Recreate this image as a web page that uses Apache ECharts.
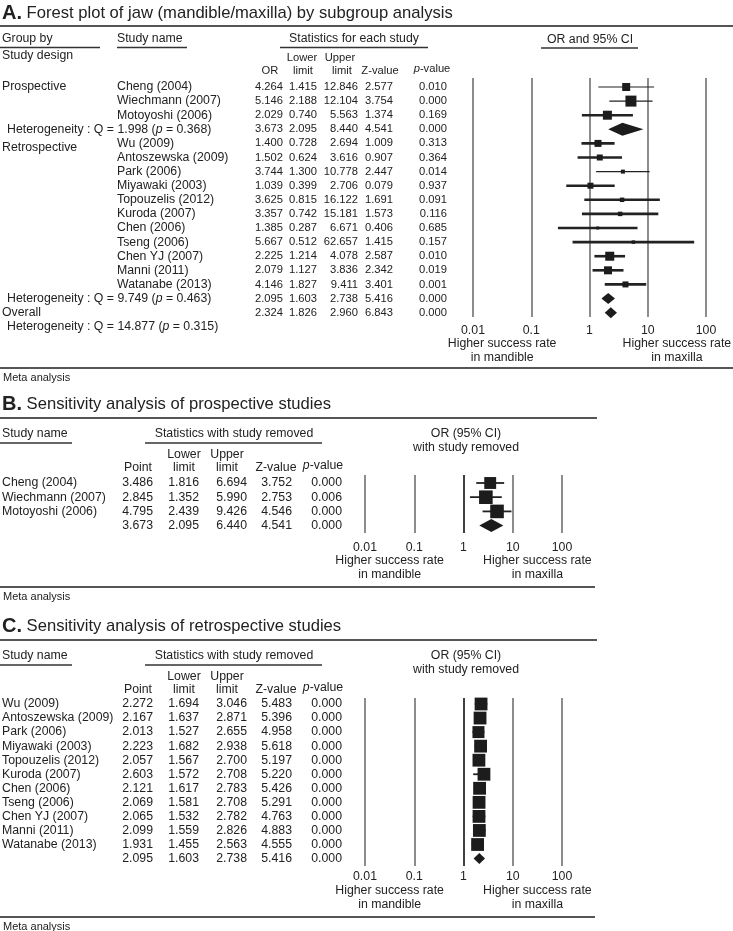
<!DOCTYPE html>
<html><head><meta charset="utf-8">
<script src="https://cdn.jsdelivr.net/npm/echarts@6/dist/echarts.min.js"></script>
<style>html,body{margin:0;padding:0;background:#fff}#c{width:733px;height:931px}</style>
</head><body><div id="c"></div>
<script>
// ---------------- DATA ----------------
const tickLabels = ['0.01', '0.1', '1', '10', '100'];

// Panel A: individual studies
const aStudies = ['Cheng (2004)', 'Wiechmann (2007)', 'Motoyoshi (2006)', 'Wu (2009)', 'Antoszewska (2009)', 'Park (2006)', 'Miyawaki (2003)', 'Topouzelis (2012)', 'Kuroda (2007)', 'Chen (2006)', 'Tseng (2006)', 'Chen YJ (2007)', 'Manni (2011)', 'Watanabe (2013)'];
const aDesign = ['Prospective', 'Prospective', 'Prospective', 'Retrospective', 'Retrospective', 'Retrospective', 'Retrospective', 'Retrospective', 'Retrospective', 'Retrospective', 'Retrospective', 'Retrospective', 'Retrospective', 'Retrospective'];
const aOR = [4.264, 5.146, 2.029, 1.400, 1.502, 3.744, 1.039, 3.625, 3.357, 1.385, 5.667, 2.225, 2.079, 4.146];
const aLower = [1.415, 2.188, 0.740, 0.728, 0.624, 1.300, 0.399, 0.815, 0.742, 0.287, 0.512, 1.214, 1.127, 1.827];
const aUpper = [12.846, 12.104, 5.563, 2.694, 3.616, 10.778, 2.706, 16.122, 15.181, 6.671, 62.657, 4.078, 3.836, 9.411];
const aZ = [2.577, 3.754, 1.374, 1.009, 0.907, 2.447, 0.079, 1.691, 1.573, 0.406, 1.415, 2.587, 2.342, 3.401];
const aP = [0.010, 0.000, 0.169, 0.313, 0.364, 0.014, 0.937, 0.091, 0.116, 0.685, 0.157, 0.010, 0.019, 0.001];
const aWeight = [6.4, 12.1, 8.1, 4.9, 3.6, 1.6, 3.6, 2.0, 2.0, 0.9, 1.2, 8.1, 6.4, 3.6]; // relative weights (read from square areas)

// Panel A: subgroup / overall summaries
const aSumGroups = ['Prospective', 'Retrospective', 'Overall'];
const aSumOR = [3.673, 2.095, 2.324];
const aSumLower = [2.095, 1.603, 1.826];
const aSumUpper = [8.440, 2.738, 2.960];
const aSumZ = [4.541, 5.416, 6.843];
const aSumP = [0.000, 0.000, 0.000];
const aHetQ = [1.998, 9.749, 14.877];
const aHetP = [0.368, 0.463, 0.315];

// Panel B: prospective, one study removed
const bStudies = ['Cheng (2004)', 'Wiechmann (2007)', 'Motoyoshi (2006)'];
const bPoint = [3.486, 2.845, 4.795];
const bLower = [1.816, 1.352, 2.439];
const bUpper = [6.694, 5.990, 9.426];
const bZ = [3.752, 2.753, 4.546];
const bP = [0.000, 0.006, 0.000];
const bWeight = [14, 16, 16];
const bSummary = [3.673, 2.095, 6.440, 4.541, 0.000];

// Panel C: retrospective, one study removed
const cStudies = ['Wu (2009)', 'Antoszewska (2009)', 'Park (2006)', 'Miyawaki (2003)', 'Topouzelis (2012)', 'Kuroda (2007)', 'Chen (2006)', 'Tseng (2006)', 'Chen YJ (2007)', 'Manni (2011)', 'Watanabe (2013)'];
const cPoint = [2.272, 2.167, 2.013, 2.223, 2.057, 2.603, 2.121, 2.069, 2.065, 2.099, 1.931];
const cLower = [1.694, 1.637, 1.527, 1.682, 1.567, 1.572, 1.617, 1.581, 1.532, 1.559, 1.455];
const cUpper = [3.046, 2.871, 2.655, 2.938, 2.700, 2.708, 2.783, 2.708, 2.782, 2.826, 2.563];
const cZ = [5.483, 5.396, 4.958, 5.618, 5.197, 5.220, 5.426, 5.291, 4.763, 4.883, 4.555];
const cP = [0.000, 0.000, 0.000, 0.000, 0.000, 0.000, 0.000, 0.000, 0.000, 0.000, 0.000];
const cWeight = [16, 16, 15, 16, 16, 16, 16, 16, 16, 16, 16];
const cSummary = [2.095, 1.603, 2.738, 5.416, 0.000];

// ---------------- STYLE ----------------
const FONT = '"Liberation Sans", Arial, Helvetica, sans-serif';
const TXT = '#222';
const GRAY = '#707070';
const MARK = '#1c1c1c';
const FS = 12.3;
const FS_A_NUM = 11.2;
const thinCI = ['Cheng (2004)', 'Wiechmann (2007)', 'Park (2006)'];
function fnt(size, style, weight) { return (style || 'normal') + ' ' + (weight || 'normal') + ' ' + size + 'px ' + FONT; }
function f3(v) { return v.toFixed(3); }
function tickFmt(v) { const i = Math.round(Math.log10(v)) + 2; return tickLabels[i] || ''; }

// ---------------- SERIES DATA ----------------
// item: [estimate, row, lower, upper, weight, kind(0 study,1 diamond), halfHeight, lineWidth]
const aRows = [];
let r = 0;
const aSumRow = [];
for (let i = 0; i < aStudies.length; i++) {
  if (i > 0 && aDesign[i] !== aDesign[i - 1]) { aSumRow.push(r); r++; }
  aRows.push(r); r++;
}
aSumRow.push(r); r++;      // retrospective summary row
aSumRow.push(r); r++;      // overall row
const aData = aStudies.map((s, i) => [aOR[i], aRows[i], aLower[i], aUpper[i], aWeight[i], 0, 0, thinCI.indexOf(s) >= 0 ? 1.2 : 2.6]);
aSumOR.forEach((v, k) => aData.push([v, aSumRow[k], aSumLower[k], aSumUpper[k], 0, 1, k === 0 ? 6.5 : 5.5, 0]));

const bData = bStudies.map((s, i) => [bPoint[i], i, bLower[i], bUpper[i], bWeight[i], 0, 0, 1.8]);
bData.push([bSummary[0], bStudies.length, bSummary[1], bSummary[2], 0, 1, 6.5, 0]);
const cData = cStudies.map((s, i) => [cPoint[i], i, cLower[i], cUpper[i], cWeight[i], 0, 0, 1.8]);
cData.push([cSummary[0], cStudies.length, cSummary[1], cSummary[2], 0, 1, 5.5, 0]);

function makeRender(sizeFn) {
  return function (params, api) {
    const est = api.value(0), row = api.value(1), lo = api.value(2), hi = api.value(3);
    const w = api.value(4), kind = api.value(5), hh = api.value(6), lw = api.value(7);
    const pE = api.coord([est, row]), pL = api.coord([lo, row]), pH = api.coord([hi, row]);
    if (kind === 1) {
      return { type: 'polygon', shape: { points: [[pL[0], pE[1]], [pE[0], pE[1] - hh], [pH[0], pE[1]], [pE[0], pE[1] + hh]] }, style: { fill: MARK } };
    }
    const s = sizeFn(w);
    return { type: 'group', children: [
      { type: 'line', shape: { x1: pL[0], y1: pE[1], x2: pH[0], y2: pE[1] }, style: { stroke: '#222', lineWidth: lw } },
      { type: 'rect', shape: { x: pE[0] - s / 2, y: pE[1] - s / 2, width: s, height: s }, style: { fill: MARK } }
    ] };
  };
}

function xAxisCfg(k, colors, margin) {
  return {
    type: 'log', logBase: 10, min: 0.01, max: 100, gridIndex: k,
    axisLine: { show: false }, axisTick: { show: false },
    axisLabel: { formatter: tickFmt, fontSize: FS, fontFamily: FONT, color: TXT, margin: margin },
    splitLine: { show: true, lineStyle: { color: colors, width: 1.6 } }
  };
}

const chart = echarts.init(document.getElementById('c'), null, { renderer: 'canvas' });
chart.setOption({
  animation: false,
  backgroundColor: '#fff',
  grid: [
    { left: 473, top: 78, width: 233, height: 239 },
    { left: 365, top: 475, width: 197, height: 58 },
    { left: 365, top: 698, width: 197, height: 168 }
  ],
  xAxis: [
    xAxisCfg(0, GRAY, 8),
    xAxisCfg(1, [GRAY, GRAY, '#111', GRAY, GRAY], 9),
    xAxisCfg(2, [GRAY, GRAY, '#111', GRAY, GRAY], 5)
  ],
  yAxis: [
    { type: 'value', inverse: true, min: -0.638, max: 16.31, gridIndex: 0, show: false },
    { type: 'value', inverse: true, min: -0.563, max: 3.52, gridIndex: 1, show: false },
    { type: 'value', inverse: true, min: -0.427, max: 11.53, gridIndex: 2, show: false }
  ],
  series: [
    { type: 'custom', xAxisIndex: 0, yAxisIndex: 0, clip: false, encode: { x: 0, y: 1 }, data: aData, renderItem: makeRender(w => Math.sqrt(w * 10)) },
    { type: 'custom', xAxisIndex: 1, yAxisIndex: 1, clip: false, encode: { x: 0, y: 1 }, data: bData, renderItem: makeRender(w => w * 0.85) },
    { type: 'custom', xAxisIndex: 2, yAxisIndex: 2, clip: false, encode: { x: 0, y: 1 }, data: cData, renderItem: makeRender(w => w * 0.8) }
  ]
});

// ---------------- TEXT TABLES ----------------
const G = [];
const italicP = { i: { font: fnt(FS, 'italic'), fill: TXT } };
const italicPA = { i: { font: fnt(FS_A_NUM, 'italic'), fill: TXT } };
function T(x, y, text, o) {
  o = o || {};
  const st = { text: text, fill: o.fill || TXT, font: o.font || fnt(FS), textAlign: o.align || 'left', align: o.align || 'left', textVerticalAlign: 'middle', verticalAlign: 'middle' };
  if (o.rich) st.rich = o.rich;
  G.push({ type: 'text', x: x, y: y, silent: true, z: 10, style: st });
}
function L(x1, y1, x2, y2, w, c) { G.push({ type: 'line', silent: true, z: 10, shape: { x1: x1, y1: y1, x2: x2, y2: y2 }, style: { stroke: c || '#333', lineWidth: w || 1.5 } }); }
function title(y, letter, text) {
  T(2, y, '{b|' + letter + '}{t| ' + text + '}', { rich: { b: { font: fnt(20, 'normal', 'bold'), fill: TXT }, t: { font: fnt(16.6), fill: TXT } } });
}
const yAt = (k, v) => chart.convertToPixel({ yAxisIndex: k }, v);
const xAt = (k, v) => chart.convertToPixel({ xAxisIndex: k }, v);
function footer(k, y1, y2) {
  T(xAt(k, Math.pow(10, -1.5)), y1, 'Higher success rate', { align: 'center' });
  T(xAt(k, Math.pow(10, -1.5)), y2, 'in mandible', { align: 'center' });
  T(xAt(k, Math.pow(10, 1.5)), y1, 'Higher success rate', { align: 'center' });
  T(xAt(k, Math.pow(10, 1.5)), y2, 'in maxilla', { align: 'center' });
}
function rowNums(y, cols, vals, font) { vals.forEach((v, j) => T(cols[j], y, f3(v), { align: 'right', font: font })); }

// ---- Panel A
title(13, 'A.', 'Forest plot of jaw (mandible/maxilla) by subgroup analysis');
L(0, 26, 733, 26, 2, '#555');
T(2, 39, 'Group by'); L(0, 47.5, 100, 47.5);
T(117, 39, 'Study name'); L(117, 47.5, 187, 47.5);
T(354, 39, 'Statistics for each study', { align: 'center' }); L(280, 47.5, 428, 47.5);
T(590, 40, 'OR and 95% CI', { align: 'center' }); L(541, 48, 638, 48);
T(2, 56, 'Study design');
const aNumFont = fnt(FS_A_NUM);
T(302, 58, 'Lower', { align: 'center', font: aNumFont }); T(303, 71, 'limit', { align: 'center', font: aNumFont });
T(340, 58, 'Upper', { align: 'center', font: aNumFont }); T(342, 71, 'limit', { align: 'center', font: aNumFont });
T(270, 71, 'OR', { align: 'center', font: aNumFont });
T(380, 71, 'Z-value', { align: 'center', font: aNumFont });
T(432, 69, '{i|p}-value', { align: 'center', font: aNumFont, rich: italicPA });
const aCols = [283, 317, 358, 393, 447];
aStudies.forEach((s, i) => {
  const y = yAt(0, aRows[i]);
  if (i === 0 || aDesign[i] !== aDesign[i - 1]) T(2, i === 0 ? y : yAt(0, aRows[i] + 0.3), aDesign[i]);
  T(117, y, s);
  rowNums(y, aCols, [aOR[i], aLower[i], aUpper[i], aZ[i], aP[i]], aNumFont);
});
aSumGroups.forEach((g, k) => {
  const y = yAt(0, aSumRow[k]);
  const het = 'Heterogeneity : Q = ' + f3(aHetQ[k]) + ' ({i|p} = ' + f3(aHetP[k]) + ')';
  if (k < 2) {
    T(7, y, het, { rich: italicP });
  } else {
    T(2, y, g);
    T(7, yAt(0, aSumRow[k] + 1), het, { rich: italicP });
  }
  rowNums(y, aCols, [aSumOR[k], aSumLower[k], aSumUpper[k], aSumZ[k], aSumP[k]], aNumFont);
});
footer(0, 344, 358);
L(0, 368, 733, 368, 2, '#555');
T(3, 378, 'Meta analysis', { font: fnt(11) });

// ---- Panels B and C (shared layout)
const bcCols = [153, 199, 247, 292, 342];
function sensPanel(k, top, letter, text, names, pt, lo, up, z, p, summ, footY) {
  title(top, letter, text);
  L(0, top + 14, 597, top + 14, 2, '#555');
  T(2, top + 30, 'Study name'); L(0, top + 39, 72, top + 39);
  T(234, top + 30, 'Statistics with study removed', { align: 'center' }); L(145, top + 39, 322, top + 39);
  T(466, top + 30, 'OR (95% CI)', { align: 'center' });
  T(466, top + 44, 'with study removed', { align: 'center' });
  T(184, top + 51, 'Lower', { align: 'center' }); T(184, top + 64, 'limit', { align: 'center' });
  T(227, top + 51, 'Upper', { align: 'center' }); T(227, top + 64, 'limit', { align: 'center' });
  T(138, top + 64, 'Point', { align: 'center' });
  T(276, top + 64, 'Z-value', { align: 'center' });
  T(323, top + 62, '{i|p}-value', { align: 'center', rich: italicP });
  names.forEach((s, i) => {
    const y = yAt(k, i);
    T(2, y, s);
    rowNums(y, bcCols, [pt[i], lo[i], up[i], z[i], p[i]]);
  });
  rowNums(yAt(k, names.length), bcCols, summ);
  footer(k, footY, footY + 14);
  L(0, footY + 26, 595, footY + 26, 2, '#555');
  T(3, footY + 36, 'Meta analysis', { font: fnt(11) });
}
sensPanel(1, 404, 'B.', 'Sensitivity analysis of prospective studies', bStudies, bPoint, bLower, bUpper, bZ, bP, bSummary, 561);
sensPanel(2, 626, 'C.', 'Sensitivity analysis of retrospective studies', cStudies, cPoint, cLower, cUpper, cZ, cP, cSummary, 891);

chart.setOption({ graphic: { elements: G } });
</script></body></html>
